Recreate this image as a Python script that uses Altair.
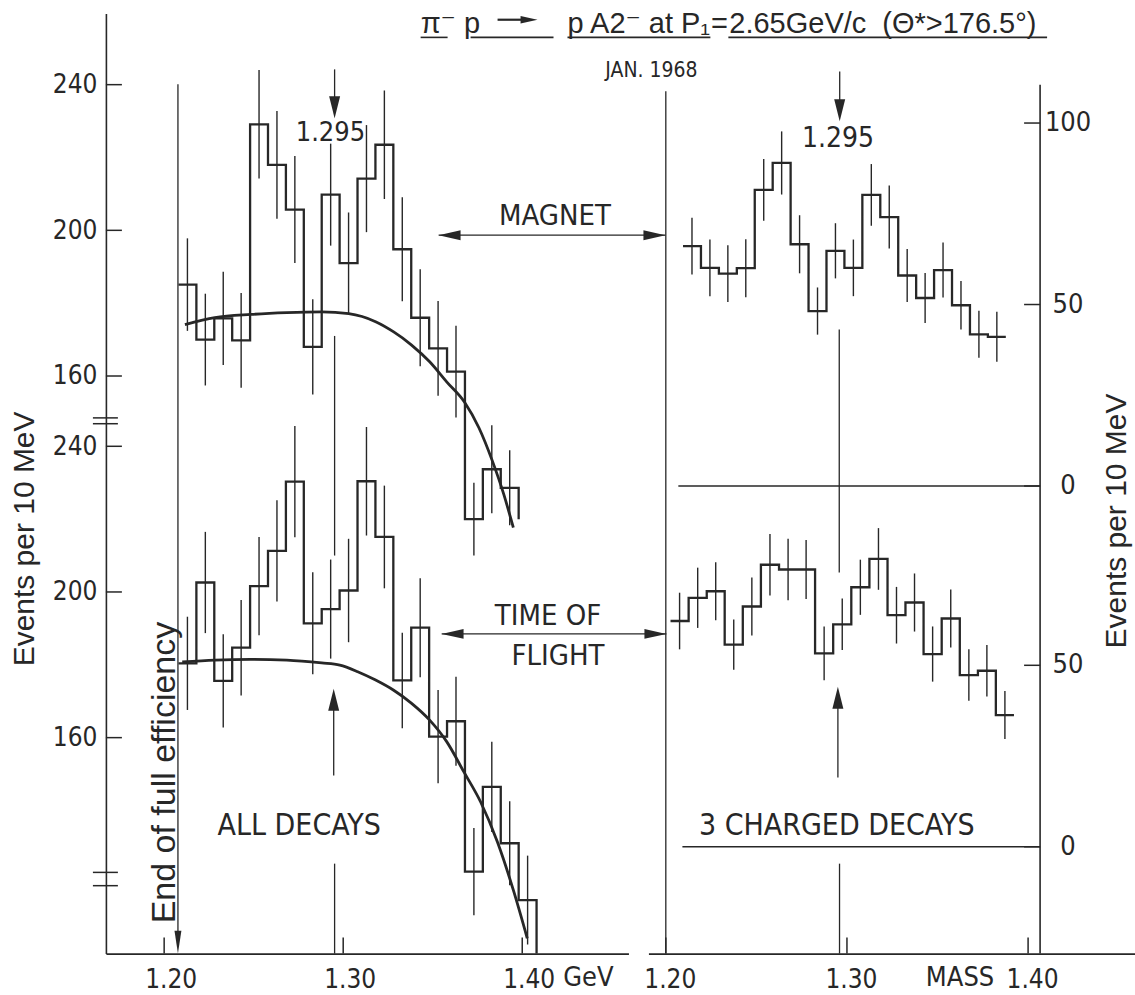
import altair as alt
import pandas as pd

INK = "#272727"
NARROW = "Liberation Sans Narrow, DejaVu Sans Condensed, Liberation Sans, sans-serif"
REG = "Liberation Sans, DejaVu Sans, sans-serif"

# ------------------------------------------------------------------ data
# Left panel ("all decays"), bins of 10 MeV, lower edges (GeV)
LEFT_EDGES = [1.208, 1.218, 1.228, 1.238, 1.248, 1.258, 1.268, 1.278, 1.288, 1.298,
              1.308, 1.318, 1.328, 1.338, 1.348, 1.358, 1.368, 1.378, 1.388, 1.398, 1.408]
MAGNET_ALL = [185.1, 170.0, 175.8, 169.8, 229.1, 218.0, 205.7, 168.0, 209.8, 191.0,
              214.2, 223.5, 194.8, 176.0, 167.6, 161.2, 120.7, 134.4, 129.3]
MAGNET_ALL_ERR = [12.7, 12.6, 12.8, 13.0, 14.9, 14.8, 14.7, 13.1, 14.0, 13.9,
                  14.7, 14.9, 14.3, 13.3, 13.0, 12.6, 10.0, 12.1, 10.3]
MAGNET_ALL_END = 120.7
TOF_ALL = [180.4, 202.6, 175.6, 184.7, 201.6, 211.3, 230.3, 191.4, 195.3, 200.4,
           230.4, 215.1, 175.7, 190.2, 160.3, 164.5, 123.2, 146.5, 131.0, 115.4]
TOF_ALL_ERR = [12.8, 13.9, 12.8, 13.1, 13.5, 13.9, 15.3, 14.0, 13.6, 14.2,
               14.9, 14.1, 13.1, 13.6, 12.8, 12.2, 12.0, 12.4, 11.5, 12.2]
TOF_ALL_END = 100.7

# Right panel ("3 charged decays")
MAGNET_3C_EDGES = [1.2095, 1.2194, 1.2293, 1.2392, 1.2491, 1.2590, 1.2689, 1.2788, 1.2887, 1.2986,
                   1.3085, 1.3184, 1.3283, 1.3382, 1.3481, 1.3580, 1.3679, 1.3778, 1.3877]
MAGNET_3C = [66.1, 60.1, 58.5, 60.0, 81.6, 89.0, 66.6, 48.2, 64.8, 60.1,
             80.2, 74.1, 58.0, 51.8, 59.5, 49.8, 41.8, 41.1]
MAGNET_3C_ERR = [7.8, 7.8, 7.8, 8.0, 8.5, 8.7, 8.0, 6.5, 7.6, 7.8,
                 8.5, 8.7, 7.3, 6.9, 7.6, 6.7, 6.5, 6.9]
TOF_3C_EDGES = [1.2026, 1.2126, 1.2226, 1.2325, 1.2425, 1.2525, 1.2625, 1.2725, 1.2824, 1.2924,
                1.3024, 1.3124, 1.3224, 1.3323, 1.3423, 1.3523, 1.3623, 1.3723, 1.3822, 1.3922]
TOF_3C = [62.2, 68.6, 70.4, 55.7, 66.2, 77.7, 76.4, 76.4, 53.3, 61.3,
          71.5, 79.3, 63.8, 67.3, 53.1, 62.9, 47.3, 48.5, 36.3]
TOF_3C_ERR = [7.8, 8.3, 8.0, 6.9, 8.0, 8.5, 8.5, 8.1, 7.4, 7.1,
              7.6, 8.5, 7.8, 8.0, 7.6, 8.0, 7.1, 7.1, 6.6]

# Background curves (left panel)
BG_MAGNET_MASS = [1.2116, 1.2283, 1.2484, 1.2685, 1.2880, 1.3031, 1.3181, 1.3282, 1.3382,
                  1.3483, 1.3578, 1.3678, 1.3758, 1.3833, 1.3897, 1.3950]
BG_MAGNET = [174.1, 176.0, 176.9, 177.4, 177.6, 177.1, 174.9, 172.1, 168.5,
             163.9, 158.4, 152.8, 145.8, 136.7, 127.5, 118.4]
BG_TOF_MASS = [1.2101, 1.2283, 1.2484, 1.2685, 1.2880, 1.2981, 1.3081, 1.3181, 1.3282,
               1.3382, 1.3483, 1.3578, 1.3674, 1.3767, 1.3861, 1.3953, 1.4028]
BG_TOF = [180.8, 181.3, 181.5, 181.3, 180.5, 179.9, 178.1, 175.8, 173.0,
          169.4, 164.8, 158.9, 150.6, 142.4, 131.4, 117.7, 104.9]

# broken axes: the lower plot of each panel is drawn this many units lower
LEFT_SHIFT = 99.3
RIGHT_SHIFT = 99.4

LEFT_TICKS_TOP = [240, 200, 160]
LEFT_TICKS_BOTTOM = [240, 200, 160]
RIGHT_TICKS_TOP = [100, 50, 0]
RIGHT_TICKS_BOTTOM = [50, 0]
MASS_TICKS = [1.20, 1.30, 1.40]

# ------------------------------------------------------------------ scales / axes
LX = alt.Scale(domain=[1.167467, 1.459320], nice=False, zero=False)
LY = alt.Scale(domain=[1.40, 259.56], nice=False, zero=False)
RX = alt.Scale(domain=[1.190403, 1.459019], nice=False, zero=False)
RY = alt.Scale(domain=[-128.83, 130.20], nice=False, zero=False)

left_tick_pos = LEFT_TICKS_TOP + [t - LEFT_SHIFT for t in LEFT_TICKS_BOTTOM]
right_tick_pos = RIGHT_TICKS_TOP + [t - RIGHT_SHIFT for t in RIGHT_TICKS_BOTTOM]

AX_LX = alt.Axis(values=MASS_TICKS, format=".2f", ticks=False, grid=False, title=None,
                 labelFont=NARROW, labelFontSize=26, labelColor=INK, labelPadding=13,
                 labelOffset=6.5, domainColor=INK, domainWidth=1.6, labelFlush=False,
                 labelOverlap=False)
AX_RX = alt.Axis(values=MASS_TICKS, format=".2f", ticks=False, grid=False, title=None,
                 labelFont=NARROW, labelFontSize=26, labelColor=INK, labelPadding=13,
                 labelOffset=4, domainColor=INK, domainWidth=1.6, labelFlush=False,
                 labelOverlap=False)
AX_LY = alt.Axis(values=left_tick_pos,
                 labelExpr=f"datum.value > 150 ? format(datum.value, 'd') : format(datum.value + {LEFT_SHIFT}, '.0f')",
                 ticks=False, grid=False, title=None, labelFont=NARROW, labelFontSize=26,
                 labelColor=INK, labelPadding=9, domainColor=INK, domainWidth=1.6,
                 labelFlush=False, labelOverlap=False)


def lx(f="m"):
    return alt.X(f"{f}:Q", scale=LX, axis=AX_LX)


def ly(f="v"):
    return alt.Y(f"{f}:Q", scale=LY, axis=AX_LY)


def rx(f="m"):
    return alt.X(f"{f}:Q", scale=RX, axis=AX_RX)


def ry(f="v"):
    return alt.Y(f"{f}:Q", scale=RY, axis=None)


def hist_rows(edges, vals, shift, name, end=None):
    rows = [{"m": edges[i], "v": v - shift, "s": name, "o": i} for i, v in enumerate(vals)]
    n = len(vals)
    rows.append({"m": edges[n], "v": vals[-1] - shift, "s": name, "o": n})
    if end is not None:
        rows.append({"m": edges[n], "v": end - shift, "s": name, "o": n + 1})
    return rows


def err_rows(edges, vals, errs, shift):
    return [{"m": (edges[i] + edges[i + 1]) / 2, "lo": v - e - shift, "hi": v + e - shift}
            for i, (v, e) in enumerate(zip(vals, errs))]


SHAPES = {
    "down": "M -0.5 -1 L 0.5 -1 L 0 1 Z",
    "up": "M -0.5 1 L 0.5 1 L 0 -1 Z",
    "downn": "M -0.3 -1 L 0.3 -1 L 0 1 Z",
    "left": "M 1 -0.45 L 1 0.45 L -1 0 Z",
    "right": "M -1 -0.45 L -1 0.45 L 1 0 Z",
}
SHAPE_SCALE = alt.Scale(domain=list(SHAPES.keys()), range=list(SHAPES.values()))


def seg_layer(rows, X, Y):
    df = pd.DataFrame(rows, columns=["m", "m2", "v", "v2", "w"])
    return alt.Chart(df).mark_rule(color=INK).encode(
        x=X("m"), x2=alt.X2("m2"), y=Y("v"), y2=alt.Y2("v2"),
        strokeWidth=alt.StrokeWidth("w:Q", scale=None))


def head_layer(rows, X, Y):
    df = pd.DataFrame(rows, columns=["m", "v", "d", "sz"])
    return alt.Chart(df).mark_point(filled=True, opacity=1, color=INK, strokeWidth=0).encode(
        x=X("m"), y=Y("v"), shape=alt.Shape("d:N", scale=SHAPE_SCALE, legend=None),
        size=alt.Size("sz:Q", scale=None))


def text_layer(rows, X, Y, align="center", baseline="middle", font=NARROW):
    df = pd.DataFrame(rows, columns=["m", "v", "t", "fs", "a"])
    return alt.Chart(df).mark_text(align=align, baseline=baseline, font=font, color=INK).encode(
        x=X("m"), y=Y("v"), text="t:N", size=alt.Size("fs:Q", scale=None),
        angle=alt.Angle("a:Q", scale=None))


# ------------------------------------------------------------------ left panel
anchor = alt.Chart(pd.DataFrame([{"m": 1.10915, "m2": 1.10915, "v": 262.72, "v2": 261.2}])).mark_rule(
    color="white", strokeWidth=1).encode(x=lx("m"), x2=alt.X2("m2"), y=ly("v"), y2=alt.Y2("v2"))

lh = pd.DataFrame(hist_rows(LEFT_EDGES, MAGNET_ALL, 0, "mag", MAGNET_ALL_END)
                  + hist_rows(LEFT_EDGES, TOF_ALL, LEFT_SHIFT, "tof", TOF_ALL_END))
left_hist = alt.Chart(lh).mark_line(interpolate="step-after", color=INK, strokeWidth=2.3).encode(
    x=lx(), y=ly(), detail="s:N", order="o:Q")

le = pd.DataFrame(err_rows(LEFT_EDGES, MAGNET_ALL, MAGNET_ALL_ERR, 0)
                  + err_rows(LEFT_EDGES, TOF_ALL, TOF_ALL_ERR, LEFT_SHIFT))
left_err = alt.Chart(le).mark_rule(color=INK, strokeWidth=1.4).encode(
    x=lx(), y=ly("lo"), y2=alt.Y2("hi"))

lc = pd.DataFrame([{"m": m, "v": v, "s": "mag"} for m, v in zip(BG_MAGNET_MASS, BG_MAGNET)]
                  + [{"m": m, "v": v - LEFT_SHIFT, "s": "tof"} for m, v in zip(BG_TOF_MASS, BG_TOF)])
left_curve = alt.Chart(lc).mark_line(interpolate="monotone", color=INK, strokeWidth=2.8).encode(
    x=lx(), y=ly(), detail="s:N")

LX0 = 1.167467
left_segs = []
for t in left_tick_pos:
    left_segs.append([LX0, LX0 + 0.00893, t, t, 1.5])
for t in MASS_TICKS:
    left_segs.append([t, t, 1.40, 5.8, 1.5])
for v in [148.5, 146.9, 23.7, 20.05]:
    left_segs.append([1.16021, 1.17416, v, v, 1.5])
left_segs += [
    [1.2077, 1.2077, 240.1, 4.6, 1.3],          # end of full efficiency line
    [1.2952, 1.2952, 244.2, 234.0, 1.3],        # 1.295 arrow (top)
    [1.2952, 1.2952, 171.0, 110.7, 1.3],
    [1.2947, 1.2947, 71.1, 50.3, 1.3],          # 1.295 arrow (bottom)
    [1.2952, 1.2952, 26.1, 1.40, 1.3],
    [1.3533, 1.4800, 198.66, 198.66, 1.3],      # MAGNET double arrow
    [1.3550, 1.4805, 89.19, 89.19, 1.3],        # TIME OF FLIGHT double arrow
    [1.38622, 1.40184, 257.83, 257.83, 2.2],    # arrow in the title
    [1.34325, 1.35831, 252.98, 252.98, 1.6],    # title underlines
    [1.37115, 1.41747, 252.98, 252.98, 1.6],
    [1.42528, 1.50508, 252.98, 252.98, 1.6],
    [1.51513, 1.69314, 252.98, 252.98, 1.6],
]
left_seg = seg_layer(left_segs, lx, ly)

left_heads = head_layer([
    [1.2952, 233.77, "down", 484],
    [1.2947, 71.08, "up", 484],
    [1.2077, 4.55, "downn", 529],
    [1.35943, 198.66, "left", 484],
    [1.47383, 198.66, "right", 484],
    [1.36110, 89.19, "left", 484],
    [1.47439, 89.19, "right", 484],
    [1.40379, 257.83, "right", 289],
], lx, ly)

left_text_c = text_layer([
    [1.29286, 226.6, "1.295", 27, 0],
    [1.41830, 203.87, "MAGNET", 29, 0],
    [1.41440, 94.12, "TIME OF", 29, 0],
    [1.41998, 83.15, "FLIGHT", 29, 0],
    [1.27545, 36.54, "ALL DECAYS", 30, 0],
    [1.43700, -5.32, "GeV", 27, 0],
], lx, ly)
left_text_rot = text_layer([
    [1.20039, 51.11, "End of full efficiency", 34, 270],
    [1.12227, 115.27, "Events per 10 MeV", 30, 270],
], lx, ly, font=REG)
title_l = text_layer([
    [1.34325, 254.07, "π⁻ p", 29, 0],
    [1.42528, 254.07, "p A2⁻ at P₁", 29, 0],
    [1.51568, 254.07, "2.65GeV/c\u00a0\u00a0(Θ*>176.5°)", 29, 0],
], lx, ly, align="left", baseline="alphabetic", font=REG)
title_c = text_layer([
    [1.51010, 254.07, "=", 29, 0],
], lx, ly, baseline="alphabetic", font=REG)

left = alt.layer(anchor, left_curve, left_hist, left_err, left_seg, left_heads,
                 left_text_c, left_text_rot, title_l, title_c).properties(width=523, height=941)

# ------------------------------------------------------------------ right panel
rh = pd.DataFrame(hist_rows(MAGNET_3C_EDGES, MAGNET_3C, 0, "mag")
                  + hist_rows(TOF_3C_EDGES, TOF_3C, RIGHT_SHIFT, "tof"))
right_hist = alt.Chart(rh).mark_line(interpolate="step-after", color=INK, strokeWidth=2.3).encode(
    x=rx(), y=ry(), detail="s:N", order="o:Q")
re_ = pd.DataFrame(err_rows(MAGNET_3C_EDGES, MAGNET_3C, MAGNET_3C_ERR, 0)
                   + err_rows(TOF_3C_EDGES, TOF_3C, TOF_3C_ERR, RIGHT_SHIFT))
right_err = alt.Chart(re_).mark_rule(color=INK, strokeWidth=1.4).encode(
    x=rx(), y=ry("lo"), y2=alt.Y2("hi"))

RAX = 1.40662
right_segs = [
    [1.20, 1.20, 108.73, -128.83, 1.3],
    [1.2960, 1.2960, 114.23, 103.5, 1.3],
    [1.29575, 1.29575, 43.13, -23.86, 1.3],
    [1.2950, 1.2950, -58.36, -80.3, 1.3],
    [1.2959, 1.2959, -104.05, -128.83, 1.3],
    [RAX, RAX, 110.57, -128.83, 1.6],
    [1.20692, RAX, 0, 0, 1.5],
    [1.20916, RAX, -RIGHT_SHIFT, -RIGHT_SHIFT, 1.5],
]
for t in right_tick_pos:
    right_segs.append([RAX - 0.00883, RAX, t, t, 1.5])
for t in MASS_TICKS:
    right_segs.append([t, t, -128.83, -124.4, 1.5])
right_seg = seg_layer(right_segs, rx, ry)

right_heads = head_layer([
    [1.2960, 103.5, "down", 484],
    [1.2950, -58.36, "up", 484],
], rx, ry)

right_labels = [[1.42206, p, str(t), 27, 0]
                for p, t in zip(right_tick_pos, RIGHT_TICKS_TOP + RIGHT_TICKS_BOTTOM)]
right_text_c = text_layer([
    [1.19206, 114.23, "JAN. 1968", 21, 0],
    [1.29509, 95.51, "1.295", 28, 0],
    [1.29437, -93.59, "3 CHARGED DECAYS", 30, 0],
    [1.36242, -135.56, "MASS", 27, 0],
] + right_labels, rx, ry)
right_text_rot = text_layer([
    [1.44931, -9.64, "Events per 10 MeV", 30, 270],
], rx, ry, font=REG)

right = alt.layer(right_hist, right_err, right_seg, right_heads,
                  right_text_c, right_text_rot).properties(width=487, height=941)

chart = alt.hconcat(left, right, spacing=20, bounds="flush").properties(
    padding=0, autosize=alt.AutoSizeParams(type="pad")
).configure(background="white").configure_view(stroke=None)

chart.save("out.html", embed_options={"renderer": "svg", "actions": False})
